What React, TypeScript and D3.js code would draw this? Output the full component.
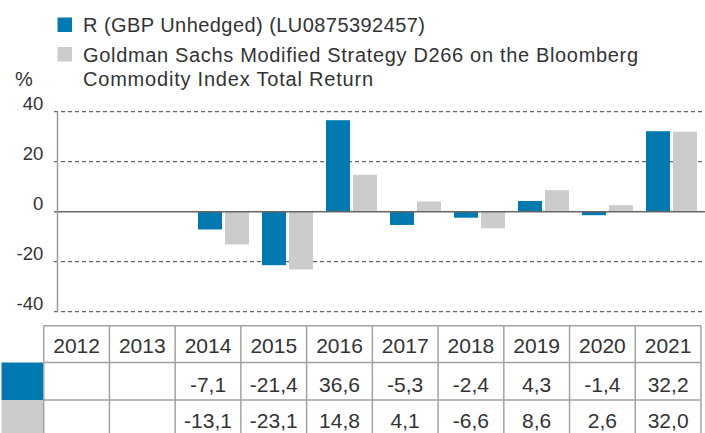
import React from "react";
import * as d3 from "d3";

const years = ["2012", "2013", "2014", "2015", "2016", "2017", "2018", "2019", "2020", "2021"];
const fundValues: (number | null)[] = [null, null, -7.1, -21.4, 36.6, -5.3, -2.4, 4.3, -1.4, 32.2];
const indexValues: (number | null)[] = [null, null, -13.1, -23.1, 14.8, 4.1, -6.6, 8.6, 2.6, 32.0];
const yTicks = [40, 20, 0, -20, -40];
const seriesNames = [
  ["R (GBP Unhedged) (LU0875392457)"],
  ["Goldman Sachs Modified Strategy D266 on the Bloomberg", "Commodity Index Total Return"],
];

const BLUE = "#0079b0";
const GRAY = "#cccccc";
const TEXT = "#333333";
const FONT = "'Liberation Sans', Arial, sans-serif";

export default function App() {
  const W = 705;
  const H = 433;
  const y = d3.scaleLinear().domain([-40, 40]).range([311.7, 111.7]);
  const x = d3.scaleBand<string>().domain(years).range([63.5, 703.5]).padding(0);
  const tableX = d3.scaleBand<string>().domain(years).range([43.7, 701]).padding(0);
  const fmt = (v: number) => v.toFixed(1).replace(".", ",");
  const barW = 24;
  const tableTop = 325.7;
  const rowY = [tableTop, 362.5, 400, 440];
  const lineCol = "#a2a2a2";

  return (
    <svg width={W} height={H} style={{ position: "absolute", left: 0, top: 0, fontFamily: FONT }}>
      <rect x={0} y={0} width={W} height={H} fill="#fff" />
      {/* legend */}
      <rect x={57.5} y={17.5} width={14.5} height={14.5} fill={BLUE} />
      <rect x={57.5} y={47} width={14.5} height={14.5} fill={GRAY} />
      <text x={83} y={32} fontSize={20} fill={TEXT} textLength={342} lengthAdjust="spacing">{seriesNames[0][0]}</text>
      <text x={83} y={62} fontSize={20} fill={TEXT} textLength={555} lengthAdjust="spacing">{seriesNames[1][0]}</text>
      <text x={83} y={86} fontSize={20} fill={TEXT} textLength={290} lengthAdjust="spacing">{seriesNames[1][1]}</text>
      <text x={15} y={85.7} fontSize={20} fill={TEXT}>%</text>

      {/* gridlines */}
      {yTicks.filter((t) => t !== 0).map((t) => (
        <line key={t} x1={54} x2={705} y1={y(t)} y2={y(t)} stroke="#666" strokeWidth={1.2} strokeDasharray="4,3" />
      ))}
      {yTicks.map((t) => (
        <text key={"l" + t} x={43.3} y={y(t) - 1.7} fontSize={18.5} fill={TEXT} textAnchor="end">{t}</text>
      ))}
      {/* bars */}
      {years.map((yr, i) => {
        const c = (x(yr) as number) + x.bandwidth() / 2;
        const f = fundValues[i];
        const g = indexValues[i];
        return (
          <g key={yr}>
            {f !== null && (
              <rect x={c - 25.5} width={barW} y={Math.min(y(f), y(0))} height={Math.abs(y(f) - y(0))} fill={BLUE} />
            )}
            {g !== null && (
              <rect x={c + 1.5} width={barW} y={Math.min(y(g), y(0))} height={Math.abs(y(g) - y(0))} fill={GRAY} />
            )}
          </g>
        );
      })}
      <line x1={54} x2={705} y1={y(0)} y2={y(0)} stroke="#666" strokeWidth={1.5} />
      <line x1={57.5} x2={57.5} y1={y(40)} y2={y(-40)} stroke="#999" strokeWidth={1.5} />

      {/* table */}
      <rect x={1.5} y={rowY[1]} width={42.2} height={rowY[2] - rowY[1]} fill={BLUE} />
      <rect x={1.5} y={rowY[2]} width={42.2} height={rowY[3] - rowY[2]} fill={GRAY} />
      {[rowY[0], rowY[1], rowY[2]].map((ry, i) => (
        <line key={"h" + i} x1={43.7} x2={701} y1={ry} y2={ry} stroke={lineCol} strokeWidth={1.5} />
      ))}
      {years.map((yr) => (
        <line key={"v" + yr} x1={tableX(yr) as number} x2={tableX(yr) as number} y1={tableTop} y2={H} stroke={lineCol} strokeWidth={1.5} />
      ))}
      <line x1={701} x2={701} y1={tableTop} y2={H} stroke={lineCol} strokeWidth={1.5} />
      {years.map((yr, i) => {
        const c = (tableX(yr) as number) + tableX.bandwidth() / 2;
        const f = fundValues[i];
        const g = indexValues[i];
        return (
          <g key={"t" + yr} fontSize={21} fill={TEXT} textAnchor="middle">
            <text x={c} y={352.7}>{yr}</text>
            {f !== null && <text x={c} y={391.5}>{fmt(f)}</text>}
            {g !== null && <text x={c} y={428}>{fmt(g)}</text>}
          </g>
        );
      })}
    </svg>
  );
}
